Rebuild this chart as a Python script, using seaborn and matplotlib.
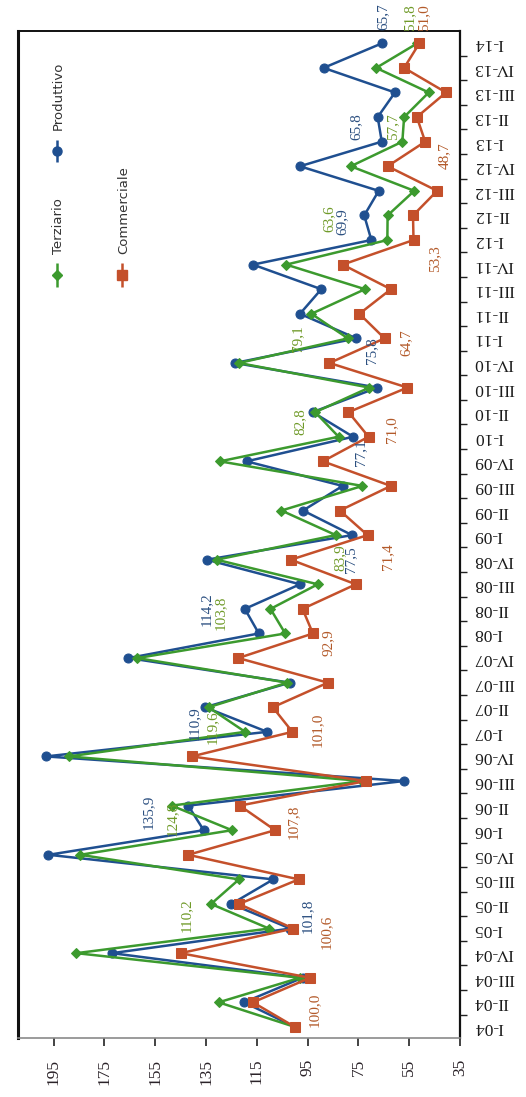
import matplotlib
matplotlib.use("Agg")
import matplotlib.pyplot as plt
import numpy as np
import pandas as pd
import seaborn as sns

# quarters I-04 .. I-14
categories = [
    "I-04", "II-04", "III-04", "IV-04",
    "I-05", "II-05", "III-05", "IV-05",
    "I-06", "II-06", "III-06", "IV-06",
    "I-07", "II-07", "III-07", "IV-07",
    "I-08", "II-08", "III-08", "IV-08",
    "I-09", "II-09", "III-09", "IV-09",
    "I-10", "II-10", "III-10", "IV-10",
    "I-11", "II-11", "III-11", "IV-11",
    "I-12", "II-12", "III-12", "IV-12",
    "I-13", "II-13", "III-13", "IV-13",
    "I-14",
]

produttivo = [
    100.0, 120.0, 97.0, 172.0,
    101.8, 125.0, 108.5, 197.0,
    135.9, 142.0, 57.0, 198.0,
    110.9, 135.4, 102.0, 165.5,
    114.2, 119.7, 98.0, 134.7,
    77.5, 96.8, 81.2, 119.0,
    77.1, 93.0, 67.5, 123.6,
    75.8, 98.0, 89.6, 116.5,
    69.9, 72.7, 67.0, 98.0,
    65.8, 67.4, 60.6, 88.7,
    65.7,
]

terziario = [
    100.0, 130.0, 98.0, 186.0,
    110.2, 133.0, 122.0, 184.5,
    124.8, 148.5, 73.4, 189.0,
    119.6, 134.0, 103.0, 162.0,
    103.8, 109.6, 91.0, 130.8,
    83.9, 105.3, 73.4, 129.5,
    82.8, 92.0, 70.7, 122.0,
    79.1, 93.5, 72.4, 103.4,
    63.6, 63.5, 53.0, 78.0,
    57.7, 57.0, 47.3, 68.0,
    51.8,
]

commerciale = [
    100.0, 116.5, 94.0, 145.0,
    100.6, 122.0, 98.5, 142.0,
    107.8, 121.7, 72.0, 140.6,
    101.0, 108.7, 87.0, 122.3,
    92.9, 97.0, 76.0, 101.6,
    71.4, 82.3, 62.2, 89.0,
    71.0, 78.9, 55.7, 86.4,
    64.7, 74.6, 62.2, 81.2,
    53.3, 53.5, 44.0, 63.5,
    48.7, 52.0, 40.5, 57.0,
    51.0,
]

value_ticks = [195, 175, 155, 135, 115, 95, 75, 55, 35]

# which points carry a value label (first quarter of every year)
labelled_prod = [4, 8, 12, 16, 20, 24, 28, 32, 36, 40]
labelled_terz = [4, 8, 12, 16, 20, 24, 28, 32, 36, 40]
labelled_comm = [0, 4, 8, 12, 16, 20, 24, 28, 32, 36, 40]

# label offsets in pixels (dx right, dy down as seen on the page)
off_prod = [(17, -13), (-55, -18), (-73, -9), (-52, -24), (-1, 25),
            (8, 16), (15, 12), (-29, -18), (-26, -15), (1, -27)]
off_terz = [(-83, -13), (-60, -11), (-33, -5), (-65, -21), (4, 23),
            (-39, -15), (-50, 0), (-58, -21), (-10, -15), (-8, -26)]
off_comm = [(19, -17), (33, 3), (18, -8), (25, -2), (15, 9), (20, 22),
            (23, -7), (22, 4), (21, 19), (19, 14), (4, -26)]

blue = "#1f4f90"
green = "#3c9a2e"
red = "#c4502b"

sns.set_style("white")
plt.rcParams["font.family"] = ["Liberation Serif", "DejaVu Serif"]

fig = plt.figure(figsize=(5.26, 10.97), dpi=100)
ax = fig.add_axes([18 / 526, (1097 - 1038) / 1097, 442 / 526, 1007 / 1097])

pos = np.arange(len(categories))

series = [
    ("Produttivo", produttivo, blue, "o", 6.5, labelled_prod, off_prod, "#2b4f80"),
    ("Terziario", terziario, green, "D", 5, labelled_terz, off_terz, "#6f9a28"),
    ("Commerciale", commerciale, red, "s", 6.5, labelled_comm, off_comm, "#b35a2a"),
]

for name, vals, col, mk, ms, lab_idx, offs, lab_col in series:
    df = pd.DataFrame({"valore": vals, "pos": pos})
    sns.lineplot(data=df, x="valore", y="pos", orient="y", sort=False,
                 estimator=None, color=col, marker=mk, markersize=ms,
                 markeredgecolor=col, linewidth=1.8, ax=ax, legend=False)
    for i, (dx, dy) in zip(lab_idx, offs):
        ax.annotate(f"{vals[i]:.1f}".replace(".", ","), (vals[i], pos[i]),
                    xytext=(dx, -dy), textcoords="offset pixels",
                    rotation=90, ha="center", va="center",
                    fontsize=11, color=lab_col)

ax.set_xlim(209, 35)
ax.set_ylim(-0.45, 40.5)
ax.set_xlabel("")
ax.set_ylabel("")

ax.set_xticks(value_ticks)
ax.set_xticklabels([str(v) for v in value_ticks], rotation=90, fontsize=12.5,
                   color="#2a2228")
ax.tick_params(axis="x", length=6, width=1.2, direction="out", pad=9,
               color="#222222", bottom=True)

ax.yaxis.tick_right()
ax.set_yticks(pos)
ax.set_yticklabels(categories, rotation=180, fontsize=12.5, color="#1a1a1a",
                   va="center")
ax.set_yticks(pos[:-1] + 0.5, minor=True)
ax.tick_params(axis="y", which="major", length=0, pad=10, right=True,
               left=False, labelright=True, labelleft=False)
ax.tick_params(axis="y", which="minor", length=5, width=1, direction="out",
               right=True, left=False, color="#222222")

for side in ["left", "top", "right"]:
    ax.spines[side].set_visible(True)
    ax.spines[side].set_color("#111111")
ax.spines["left"].set_linewidth(2.2)
ax.spines["top"].set_linewidth(1.4)
ax.spines["right"].set_linewidth(1.6)
ax.spines["bottom"].set_color("#8a8a8a")
ax.spines["bottom"].set_linewidth(1.2)

# legend drawn by hand so that its text can stand rotated like the page
leg = [
    ("Produttivo", blue, "o", 6.5, 0.088, 0.870, 0.892, 0.902),
    ("Terziario", green, "D", 5, 0.088, 0.746, 0.770, 0.779),
    ("Commerciale", red, "s", 6.5, 0.235, 0.746, 0.770, 0.779),
]
for name, col, mk, ms, lx, y0, y1, ty in leg:
    ax.plot([lx, lx], [y0, y1], transform=ax.transAxes, color=col,
            linewidth=1.8, solid_capstyle="butt")
    ax.plot([lx], [(y0 + y1) / 2], transform=ax.transAxes, color=col,
            marker=mk, markersize=ms)
    ax.text(lx + 0.004, ty, name, transform=ax.transAxes, rotation=90,
            ha="center", va="bottom", fontsize=9.5, color="#333333",
            family=["DejaVu Sans"])

fig.savefig("out.png", dpi=100)
